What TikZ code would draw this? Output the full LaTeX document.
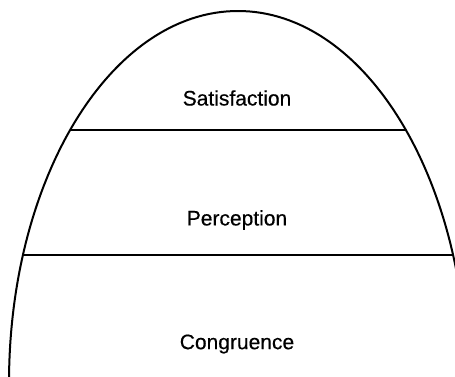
\documentclass[tikz,border=0pt]{standalone}
\usepackage{fontspec}
\setmainfont{Liberation Sans}
\newfontfamily\lblfont[FakeBold=0.4]{Liberation Sans}
\usetikzlibrary{positioning}

\begin{document}
\begin{tikzpicture}[
  x=1pt, y=-1pt,
  lbl/.style={font=\lblfont\fontsize{21}{25}\selectfont, inner sep=0pt},
  rim/.style={line width=2pt},
  tier/.style={line width=1.8pt}]
\useasboundingbox (0,0) rectangle (455,376);
\clip (0,0) rectangle (455,376);
% the dome
\draw[rim] (238,383) ellipse [x radius=229, y radius=372];
% tier boundaries
\coordinate (satL) at (70,130);
\coordinate (satR) at (406,130);
\coordinate (perL) at (23,255);
\coordinate (perR) at (453,255);
\draw[tier] (satL) -- (satR);
\draw[tier] (perL) -- (perR);
% labels
\node[lbl] (sat) at (237,98) {Satisfaction};
\node[lbl] (per) at (237,220) {Perception};
\node[lbl] (con) at (237,344) {Congruence};
\end{tikzpicture}
\end{document}
